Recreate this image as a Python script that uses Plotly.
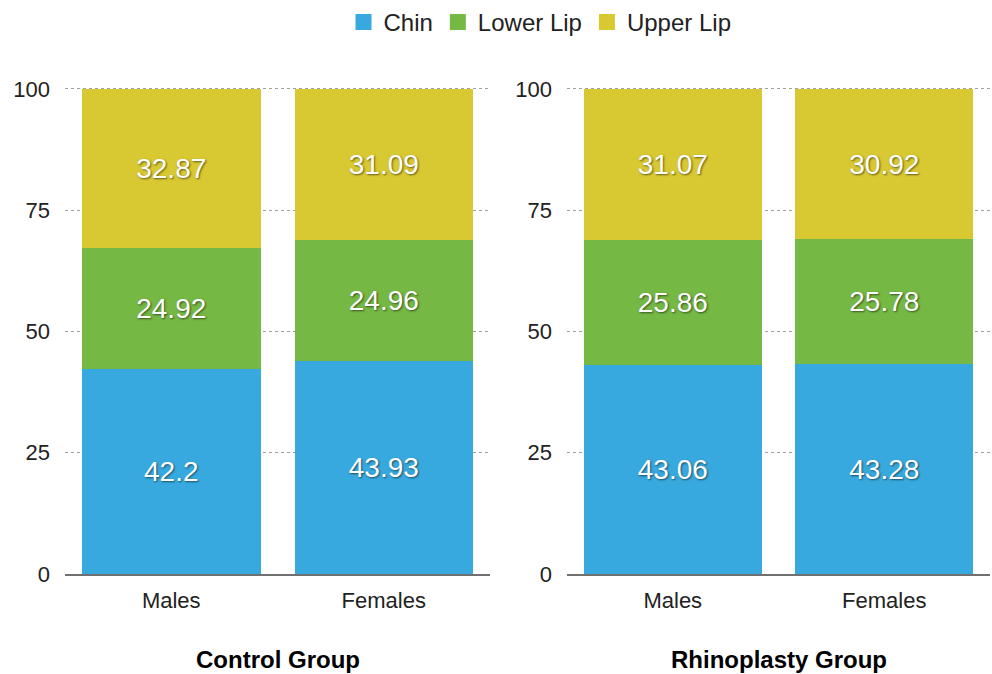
import plotly.graph_objects as go

# Facial-profile share (%) by region, per group and sex
groups = ["Control Group", "Rhinoplasty Group"]
sexes = ["Males", "Females"]
chin = {"Control Group": [42.2, 43.93], "Rhinoplasty Group": [43.06, 43.28]}
lower_lip = {"Control Group": [24.92, 24.96], "Rhinoplasty Group": [25.86, 25.78]}
upper_lip = {"Control Group": [32.87, 31.09], "Rhinoplasty Group": [31.07, 30.92]}
y_ticks = [0, 25, 50, 75, 100]

series = [
    ("Chin", chin, "#37a9de"),
    ("Lower Lip", lower_lip, "#75b844"),
    ("Upper Lip", upper_lip, "#d8c832"),
]

FONT = "Liberation Sans, Helvetica, Arial, sans-serif"

fig = go.Figure()
for gi, grp in enumerate(groups):
    xa = "x" if gi == 0 else "x2"
    ya = "y" if gi == 0 else "y2"
    for name, data, color in series:
        vals = data[grp]
        fig.add_trace(go.Bar(
            x=sexes, y=vals, name=name,
            marker=dict(color=color, line=dict(width=0)),
            text=[f"{v:g}" for v in vals],
            textposition="inside", insidetextanchor="middle",
            textfont=dict(color="white", size=28, family=FONT,
                          shadow="1px 1px 2px rgba(0,0,0,0.55)"),
            xaxis=xa, yaxis=ya,
            showlegend=False,
        ))

# legend entries drawn as square swatches
for name, _, color in series:
    fig.add_trace(go.Scatter(
        x=[None], y=[None], mode="markers", name=name,
        marker=dict(symbol="square", size=17, color=color),
        showlegend=True,
    ))

axis_y = dict(
    range=[0, 100.3], tickvals=y_ticks, showgrid=True,
    gridcolor="#a0a0a0", griddash="dot", gridwidth=1,
    zeroline=False, showline=False, ticks="",
    ticklabelstandoff=14, automargin=False,
    tickfont=dict(size=22, color="#222", family=FONT),
)
axis_x = dict(
    showline=True, linecolor="#707070", linewidth=2, ticks="",
    tickfont=dict(size=22, color="#222", family=FONT),
    ticklabelstandoff=6, automargin=False,
)

TOP, BOT = 70, 70
H = 674 - TOP - BOT

def py(px):
    # pixel row -> plot-area fraction
    return (674 - BOT - px) / H

fig.update_layout(
    width=992, height=674,
    margin=dict(l=0, r=0, t=TOP, b=BOT),
    paper_bgcolor="white", plot_bgcolor="white",
    barmode="stack", bargap=0.16,
    font=dict(family=FONT),
    xaxis=dict(domain=[0.0655, 0.494], anchor="y", **axis_x),
    yaxis=dict(domain=[py(574), py(86.5)], anchor="x", **axis_y),
    xaxis2=dict(domain=[0.5716, 0.998], anchor="y2", **axis_x),
    yaxis2=dict(domain=[py(574), py(86.5)], anchor="x2", **axis_y),
    legend=dict(orientation="h", x=540 / 992, xanchor="center", y=py(21), yanchor="middle",
                font=dict(size=24, color="#222", family=FONT),
                itemwidth=30, traceorder="normal"),
)

for gi, grp in enumerate(groups):
    xr = "x domain" if gi == 0 else "x2 domain"
    fig.add_annotation(
        text=f"<b>{grp}</b>", xref=xr, yref="paper", x=0.5, y=py(660),
        xanchor="center", yanchor="middle", showarrow=False,
        font=dict(size=24, color="#000", family="Liberation Sans, Arial, sans-serif"),
    )

fig.write_html("out.html")
